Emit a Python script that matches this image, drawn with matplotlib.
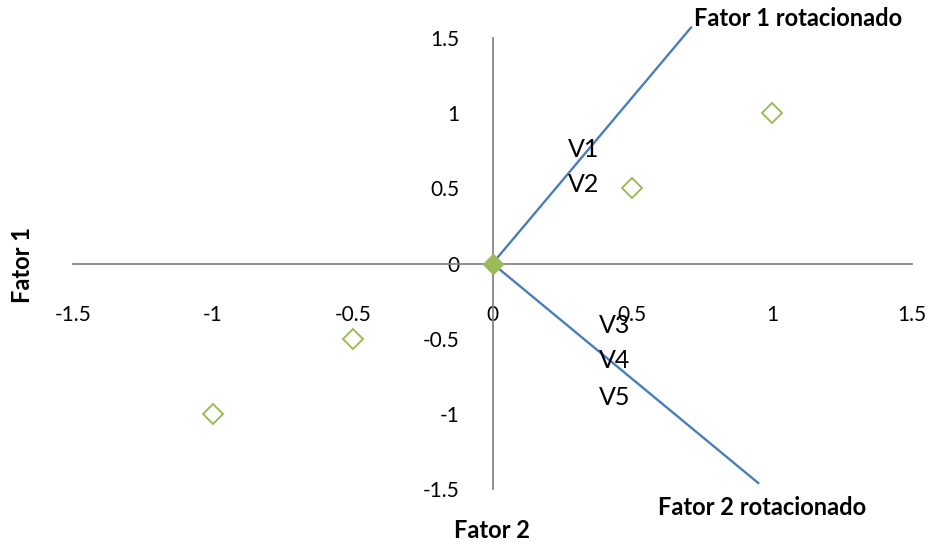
import matplotlib.pyplot as plt

plt.rcParams['font.family'] = ['Lato', 'DejaVu Sans']

# loadings of the variables (original factors)
px = [-1, -0.5, 0.5, 1]
py = [-1, -0.5, 0.5, 1]
origin = [0, 0]

# rotated factor axes (end points)
f1_end = [0.71, 1.57]
f2_end = [0.95, -1.46]

var_names = ['V1', 'V2', 'V3', 'V4', 'V5']
var_x = [0.27, 0.27, 0.38, 0.38, 0.38]
var_y = [0.76, 0.525, -0.41, -0.645, -0.89]

ticks = [-1.5, -1, -0.5, 0, 0.5, 1, 1.5]
tick_labels = ['-1.5', '-1', '-0.5', '0', '0.5', '1', '1.5']

fig = plt.figure(figsize=(9.31, 5.43), dpi=100)
ax = fig.add_axes([73/931, 54/543, 839/931, 451/543])

blue = '#4A7EBB'
green = '#9BBB59'

ax.plot([0, f1_end[0]], [0, f1_end[1]], color=blue, lw=1.7, zorder=2, clip_on=False)
ax.plot([0, f2_end[0]], [0, f2_end[1]], color=blue, lw=1.7, zorder=2, clip_on=False)
ax.plot(px, py, 'D', ms=10, mfc='none', mec=green, mew=1.4, ls='none', zorder=3)
ax.plot(origin[0], origin[1], 'D', ms=10, mfc=green, mec=green, zorder=4)

for n, x, y in zip(var_names, var_x, var_y):
    ax.text(x, y, n, fontsize=18, ha='left', va='center')

ax.text(f1_end[0] + 0.01, 1.63, 'Fator 1 rotacionado', fontsize=17,
        fontweight='bold', ha='left', va='center', clip_on=False)
ax.text(f2_end[0] + 0.015, -1.62, 'Fator 2 rotacionado', fontsize=17,
        fontweight='bold', ha='center', va='center', clip_on=False)

ax.set_xlim(-1.5, 1.5)
ax.set_ylim(-1.5, 1.5)
ax.set_xticks(ticks)
ax.set_xticklabels(tick_labels)
ax.set_yticks(ticks)
ax.set_yticklabels(tick_labels)
ax.spines['left'].set_position(('data', 0))
ax.spines['bottom'].set_position(('data', 0))
ax.spines['top'].set_visible(False)
ax.spines['right'].set_visible(False)
for s in ['left', 'bottom']:
    ax.spines[s].set_color('#868686')
    ax.spines[s].set_linewidth(1.3)
ax.tick_params(axis='both', length=0, labelsize=15)
ax.tick_params(axis='x', pad=30)
ax.tick_params(axis='y', pad=24)

fig.text(492/931, 1 - 530/543, 'Fator 2', fontsize=17, fontweight='bold',
         ha='center', va='center')
fig.text(22/931, 1 - 265/543, 'Fator 1', fontsize=17, fontweight='bold',
         ha='center', va='center', rotation=90)

fig.savefig('out.png')
